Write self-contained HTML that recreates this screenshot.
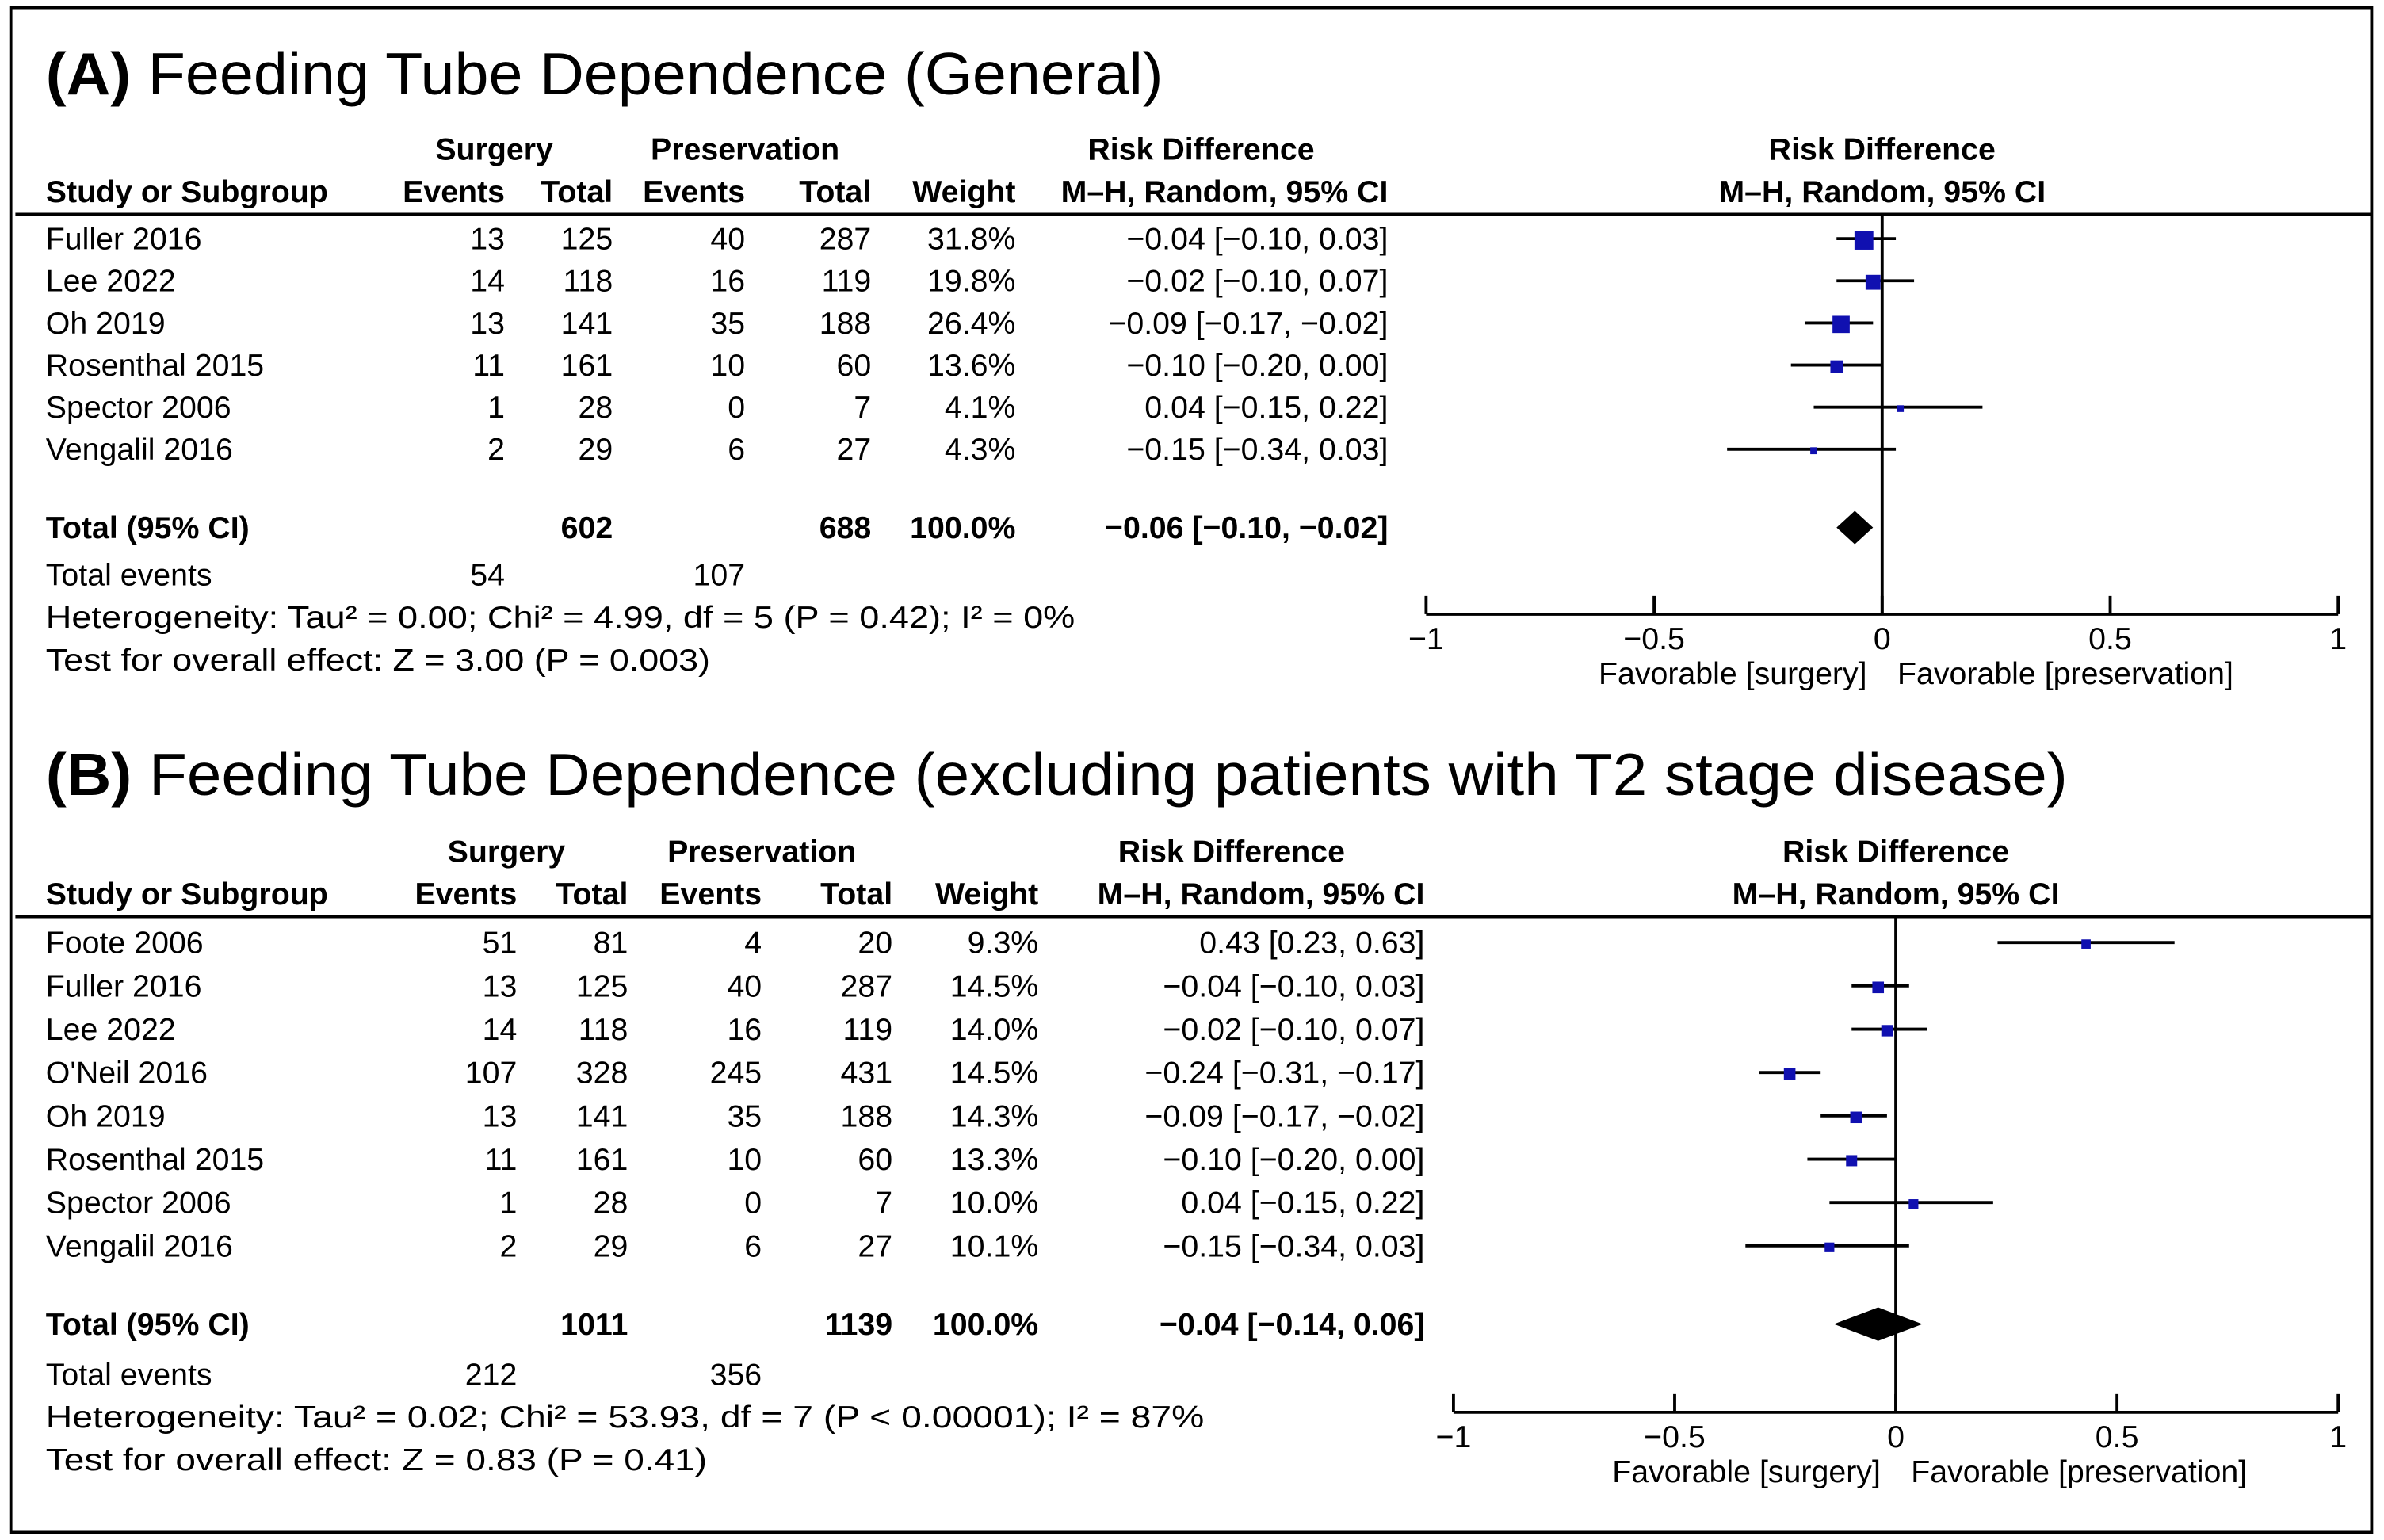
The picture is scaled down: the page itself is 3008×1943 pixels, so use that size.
<!DOCTYPE html>
<html><head><meta charset="utf-8"><style>
html,body{margin:0;padding:0;background:#fff;}
svg{display:block;font-family:"Liberation Sans","DejaVu Sans",sans-serif;}
</style></head><body>
<svg id="chart" width="3008" height="1943" viewBox="0 0 1568 1013" xmlns="http://www.w3.org/2000/svg">
<rect x="7" y="5" width="1553" height="1003" fill="#fff" stroke="#000" stroke-width="2"/>
</svg>
<script>
// Panel A data
const studiesA = ["Fuller 2016","Lee 2022","Oh 2019","Rosenthal 2015","Spector 2006","Vengalil 2016"];
const surgEvA = [13,14,13,11,1,2];
const surgTotA = [125,118,141,161,28,29];
const presEvA = [40,16,35,10,0,6];
const presTotA = [287,119,188,60,7,27];
const weightA = [31.8,19.8,26.4,13.6,4.1,4.3];
const rdA = [-0.04,-0.02,-0.09,-0.10,0.04,-0.15];
const loA = [-0.10,-0.10,-0.17,-0.20,-0.15,-0.34];
const hiA = [0.03,0.07,-0.02,0.00,0.22,0.03];
const totalA = [-0.06,-0.10,-0.02];
// Panel B data
const studiesB = ["Foote 2006","Fuller 2016","Lee 2022","O'Neil 2016","Oh 2019","Rosenthal 2015","Spector 2006","Vengalil 2016"];
const surgEvB = [51,13,14,107,13,11,1,2];
const surgTotB = [81,125,118,328,141,161,28,29];
const presEvB = [4,40,16,245,35,10,0,6];
const presTotB = [20,287,119,431,188,60,7,27];
const weightB = [9.3,14.5,14.0,14.5,14.3,13.3,10.0,10.1];
const rdB = [0.43,-0.04,-0.02,-0.24,-0.09,-0.10,0.04,-0.15];
const loB = [0.23,-0.10,-0.10,-0.31,-0.17,-0.20,-0.15,-0.34];
const hiB = [0.63,0.03,0.07,-0.17,-0.02,0.00,0.22,0.03];
const totalB = [-0.04,-0.14,0.06];
const ticks = [-1,-0.5,0,0.5,1];
const tickLabels = ["\u22121","\u22120.5","0","0.5","1"];

const svg = document.getElementById('chart');
const NS = "http://www.w3.org/2000/svg";
function el(tag, attrs, text){
  const e = document.createElementNS(NS, tag);
  for (const k in attrs) e.setAttribute(k, attrs[k]);
  if (text !== undefined) e.textContent = text;
  svg.appendChild(e);
  return e;
}
function fmt(v){ const s = Math.abs(v).toFixed(2); return (v<0?"\u2212":"")+s; }

function panel(P){
  const fs = 20.5;
  const t = el('text',{x:30,y:P.titleY,'font-size':39,textLength:P.titleLen,lengthAdjust:'spacingAndGlyphs'});
  
  
  const b = document.createElementNS(NS,'tspan'); b.setAttribute('font-weight','bold'); b.textContent = P.label+' ';
  t.appendChild(b);
  const r = document.createElementNS(NS,'tspan'); r.textContent = P.title; t.appendChild(r);
  const hb = {'font-size':fs,'font-weight':'bold'};
  const H = [
    [P.cols.surgCenter,P.h1,'middle','Surgery'],
    [P.cols.presCenter,P.h1,'middle','Preservation'],
    [P.cols.rdCenter,P.h1,'middle','Risk Difference'],
    [P.fx0+P.hOffset,P.h1,'middle','Risk Difference'],
    [30,P.h2,'start','Study or Subgroup'],
    [P.cols.se,P.h2,'end','Events'],
    [P.cols.st,P.h2,'end','Total'],
    [P.cols.pe,P.h2,'end','Events'],
    [P.cols.pt,P.h2,'end','Total'],
    [P.cols.w,P.h2,'end','Weight'],
    [P.cols.ci,P.h2,'end','M\u2013H, Random, 95% CI'],
    [P.fx0+P.hOffset,P.h2,'middle','M\u2013H, Random, 95% CI']
  ];
  H.forEach(h=>{
    const e = el('text',Object.assign({x:h[0],y:h[1],'text-anchor':h[2]},hb),h[3]);
    
    
  });
  const hl = el('line',{x1:10,x2:1560,y1:P.lineY,y2:P.lineY,stroke:'#000','stroke-width':2});
  
  

  const xs = v => P.fx0 + v*P.unit;
  const zl = el('line',{x1:xs(0),x2:xs(0),y1:P.lineY,y2:P.axisY,stroke:'#000','stroke-width':2});
  
  

  P.studies.forEach((s,i)=>{
    const y = P.rowY0 + i*P.rowH;
    const cells = [
      [30,'start',s],[P.cols.se,'end',P.se[i]],[P.cols.st,'end',P.st[i]],
      [P.cols.pe,'end',P.pe[i]],[P.cols.pt,'end',P.pt[i]],
      [P.cols.w,'end',P.w[i].toFixed(1)+'%'],
      [P.cols.ci,'end',fmt(P.rd[i])+' ['+fmt(P.lo[i])+', '+fmt(P.hi[i])+']']
    ];
    cells.forEach(c=>{
      const e = el('text',{x:c[0],y:y+7,'text-anchor':c[1],'font-size':fs},c[2]);
      
      
    });
    const ln = el('line',{x1:xs(P.lo[i]),x2:xs(P.hi[i]),y1:y,y2:y,stroke:'#000','stroke-width':2});
    
    
    const sz = P.sq(P.w[i]);
    const sq = el('rect',{x:xs(P.rd[i])-sz/2,y:y-sz/2+1,width:sz,height:sz,fill:'#1010b0'});
    
    
  });
  const ty = P.totalY;
  [[30,'start','Total (95% CI)'],[P.cols.st,'end',P.sumSt],[P.cols.pt,'end',P.sumPt],[P.cols.w,'end','100.0%'],
   [P.cols.ci,'end',fmt(P.total[0])+' ['+fmt(P.total[1])+', '+fmt(P.total[2])+']']].forEach(c=>{
    const e = el('text',{x:c[0],y:ty+7,'text-anchor':c[1],'font-size':fs,'font-weight':'bold'},c[2]);
    
    
  });
  const dm = el('polygon',{points:[xs(P.total[1])+','+ty, xs(P.total[0])+','+(ty-11), xs(P.total[2])+','+ty, xs(P.total[0])+','+(ty+11)].join(' '),fill:'#000'});
  
  
  const f = [
    [30,P.evY,'start','Total events',null],[P.cols.se,P.evY,'end',P.sumSe,null],[P.cols.pe,P.evY,'end',P.sumPe,null],
    [30,P.evY+28,'start',P.het,P.hetLen],[30,P.evY+56,'start',P.test,P.testLen]
  ];
  f.forEach(c=>{
    const a = {x:c[0],y:c[1]+7,'text-anchor':c[2],'font-size':fs};
    if (c[4]) { a.textLength = c[4]; a.lengthAdjust = 'spacingAndGlyphs'; }
    const e = el('text',a,c[3]);
    
    
  });
  const ax = el('line',{x1:xs(-1),x2:xs(1),y1:P.axisY,y2:P.axisY,stroke:'#000','stroke-width':2});
  
  
  ticks.forEach((v,i)=>{
    const tk = el('line',{x1:xs(v),x2:xs(v),y1:P.axisY-12,y2:P.axisY,stroke:'#000','stroke-width':2});
    
    
    const tl = el('text',{x:xs(v),y:P.axisY+23,'text-anchor':'middle','font-size':fs},tickLabels[i]);
    
    
  });
  const l1 = el('text',{x:xs(0)-10,y:P.axisY+46,'text-anchor':'end','font-size':fs},'Favorable [surgery]');
  
  
  const l2 = el('text',{x:xs(0)+10,y:P.axisY+46,'text-anchor':'start','font-size':fs},'Favorable [preservation]');
  
  
}

panel({id:'panel-a',label:'(A)',title:'Feeding Tube Dependence (General)',titleY:62,titleLen:735,
  h1:105,h2:133,lineY:141,rowY0:157,rowH:27.7,totalY:347,evY:378,axisY:404,
  cols:{se:332,st:403,pe:490,pt:573,w:668,ci:913,surgCenter:325,presCenter:490,rdCenter:790},
  fx0:1238,unit:300,hOffset:0,
  studies:studiesA,se:surgEvA,st:surgTotA,pe:presEvA,pt:presTotA,w:weightA,rd:rdA,lo:loA,hi:hiA,total:totalA,
  sumSt:602,sumPt:688,sumSe:54,sumPe:107,
  sq:w=>Math.max(4,Math.sqrt(w)*2.2),
  het:'Heterogeneity: Tau\u00b2 = 0.00; Chi\u00b2 = 4.99, df = 5 (P = 0.42); I\u00b2 = 0%',hetLen:677,
  test:'Test for overall effect: Z = 3.00 (P = 0.003)',testLen:437});

panel({id:'panel-b',label:'(B)',title:'Feeding Tube Dependence (excluding patients with T2 stage disease)',titleY:523,titleLen:1330,
  h1:567,h2:595,lineY:603,rowY0:620,rowH:28.5,totalY:871,evY:904,axisY:929,
  cols:{se:340,st:413,pe:501,pt:587,w:683,ci:937,surgCenter:333,presCenter:501,rdCenter:810},
  fx0:1247,unit:291,hOffset:0,
  studies:studiesB,se:surgEvB,st:surgTotB,pe:presEvB,pt:presTotB,w:weightB,rd:rdB,lo:loB,hi:hiB,total:totalB,
  sumSt:1011,sumPt:1139,sumSe:212,sumPe:356,
  sq:w=>Math.max(4,Math.sqrt(w)*2.0),
  het:'Heterogeneity: Tau\u00b2 = 0.02; Chi\u00b2 = 53.93, df = 7 (P < 0.00001); I\u00b2 = 87%',hetLen:762,
  test:'Test for overall effect: Z = 0.83 (P = 0.41)',testLen:435});
</script>
</body></html>
